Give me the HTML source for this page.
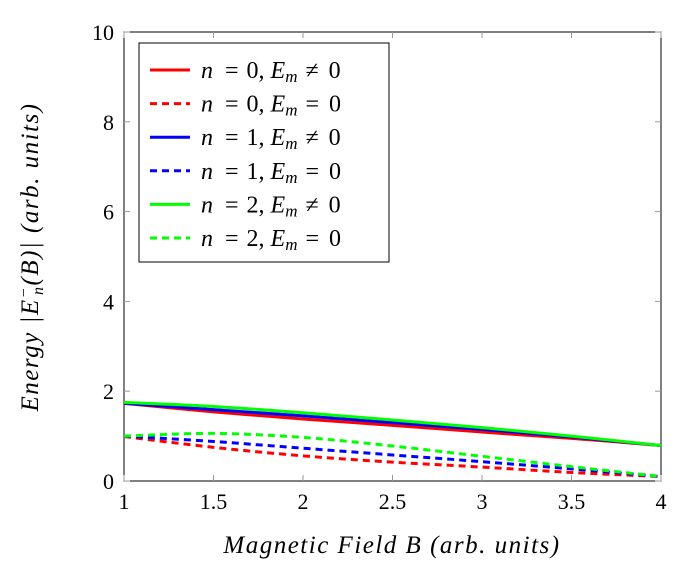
<!DOCTYPE html>
<html><head><meta charset="utf-8"><style>
body{margin:0;background:#fff}
svg text{font-family:"Liberation Serif",serif}
</style></head><body>
<svg id="c" width="686" height="571"></svg>
<script>
const xVals=[1,1.5,2,2.5,3,3.5,4];
const red=[1.73,1.54,1.38,1.24,1.09,0.95,0.79];
const redD=[0.99,0.75,0.56,0.42,0.31,0.19,0.10];
const blue=[1.73,1.59,1.45,1.30,1.15,0.98,0.79];
const blueD=[1.0,0.88,0.73,0.58,0.43,0.27,0.10];
const green=[1.75,1.66,1.52,1.36,1.19,1.00,0.79];
const greenD=[1.0,1.06,0.97,0.78,0.55,0.32,0.10];
const xTicks=[1,1.5,2,2.5,3,3.5,4];
const yTicks=[0,2,4,6,8,10];
const L=124,R=661,T=32,B=481;
const sx=v=>L+(v-1)/3*(R-L), sy=v=>B-v/10*(B-T);
const svg=document.getElementById('c');const NS="http://www.w3.org/2000/svg";
function el(t,a,p){const e=document.createElementNS(NS,t);for(const k in a)e.setAttribute(k,a[k]);(p||svg).appendChild(e);return e;}
let f=el('rect',{x:L,y:T,width:R-L,height:B-T,fill:'none',stroke:'#000','stroke-width':1});


xTicks.forEach(v=>{const x=sx(v);
 el('line',{x1:x,x2:x,y1:B,y2:B-6,stroke:'#999'});el('line',{x1:x,x2:x,y1:T,y2:T+6,stroke:'#999'});
 const t=el('text',{x:x,y:B+28,'text-anchor':'middle','font-size':22});t.textContent=v;
 
 });
yTicks.forEach(v=>{const y=sy(v);
 el('line',{x1:L,x2:L+6,y1:y,y2:y,stroke:'#999'});el('line',{x1:R,x2:R-6,y1:y,y2:y,stroke:'#999'});
 const t=el('text',{x:L-10,y:y+8,'text-anchor':'end','font-size':22});t.textContent=v;
 
 });
function path(vals){const p=xVals.map((x,i)=>[sx(x),sy(vals[i])]);let d=`M${p[0]}`;
 for(let i=0;i<p.length-1;i++){const p0=p[Math.max(0,i-1)],p1=p[i],p2=p[i+1],p3=p[Math.min(p.length-1,i+2)];
 d+=` C${p1[0]+(p2[0]-p0[0])/6},${p1[1]+(p2[1]-p0[1])/6} ${p2[0]-(p3[0]-p1[0])/6},${p2[1]-(p3[1]-p1[1])/6} ${p2[0]},${p2[1]}`;}return d;}
const series=[[red,'#f00',0,'series-n0-em-nonzero'],[redD,'#f00',1,'series-n0-em-zero'],[blue,'#00f',0,'series-n1-em-nonzero'],[blueD,'#00f',1,'series-n1-em-zero'],[green,'#0f0',0,'series-n2-em-nonzero'],[greenD,'#0f0',1,'series-n2-em-zero']];
const labels=[["0","≠"],["0","="],["1","≠"],["1","="],["2","≠"],["2","="]];
[1,3,5,0,2,4].forEach(i=>{const s=series[i];const p=el('path',{d:path(s[0]),fill:'none',stroke:s[1],'stroke-width':3,'stroke-dasharray':s[2]?'7,5':'none'});
 
 });
const lg=el('g',{});


el('rect',{x:139,y:43,width:250,height:219,fill:'#fff',stroke:'#000'},lg);
series.forEach((s,i)=>{const y=70+i*33.6;
 el('line',{x1:150,x2:190,y1:y,y2:y,stroke:s[1],'stroke-width':3,'stroke-dasharray':s[2]?'7,5':'none'},lg);
 const t=el('text',{x:201,y:y+8,'font-size':24,'xml:space':'preserve'},lg);
 
 
 t.innerHTML=`<tspan font-style="italic">n</tspan> <tspan dx="6">=</tspan><tspan dx="8">${labels[i][0]},</tspan><tspan dx="6" font-style="italic">E</tspan><tspan font-size="17" dy="4" font-style="italic">m</tspan><tspan dy="-4" dx="8">${labels[i][1]}</tspan><tspan dx="10">0</tspan>`;});
const xt=el('text',{x:392,y:553,'text-anchor':'middle','font-size':25,'font-style':'italic','letter-spacing':'1.5'});
xt.textContent='Magnetic Field B (arb. units)';


const yt=el('text',{x:0,y:0,'text-anchor':'middle','font-size':25,'font-style':'italic','letter-spacing':'1.5',transform:'translate(38,257) rotate(-90)'});
yt.innerHTML='Energy |E<tspan font-size="16" dy="-9">−</tspan><tspan font-size="16" dy="14" dx="-9">n</tspan><tspan dy="-5">(B)| (arb. units)</tspan>';


</script>
</body></html>
